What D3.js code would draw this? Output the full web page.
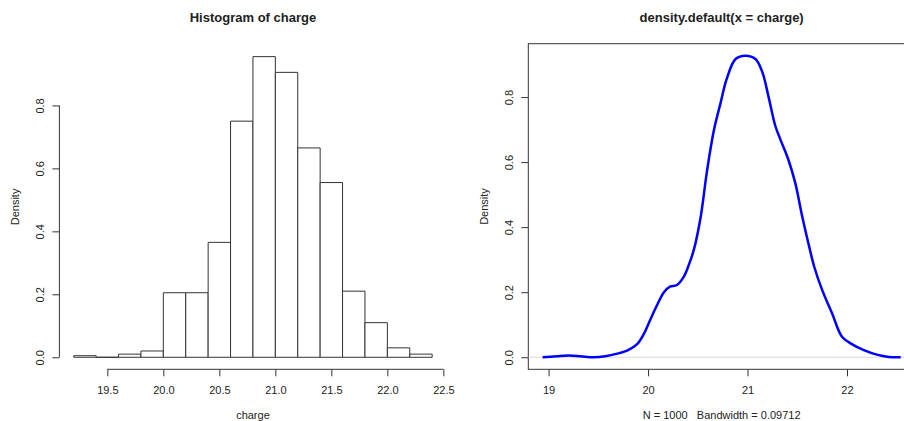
<!DOCTYPE html>
<html>
<head>
<meta charset="utf-8">
<script src="https://cdn.jsdelivr.net/npm/d3@7"></script>
<style>
	body { margin: 0; background: #fff; }
	svg text { font-family: "Liberation Sans", Arial, sans-serif; fill: #222; }
</style>
</head>
<body>
<svg id="chart" width="904" height="421"></svg>
<script>

	// hist(charge, freq = FALSE): bins of width 0.2
	var binStarts = [19.2, 19.4, 19.6, 19.8, 20.0, 20.2, 20.4, 20.6, 20.8, 21.0, 21.2, 21.4, 21.6, 21.8, 22.0, 22.2];
	var binDensity = [0.005, 0, 0.01, 0.02, 0.205, 0.205, 0.365, 0.75, 0.955, 0.905, 0.665, 0.555, 0.21, 0.11, 0.03, 0.01];
	var binWidth = 0.2;
	var histXTicks = [19.5, 20.0, 20.5, 21.0, 21.5, 22.0, 22.5];
	var histYTicks = [0, 0.2, 0.4, 0.6, 0.8];

	// plot(density(charge))
	var densX = [18.94, 19.08, 19.2, 19.32, 19.45, 19.57, 19.69, 19.8, 19.89, 19.96, 20.02, 20.09, 20.16, 20.22, 20.29, 20.36, 20.41, 20.46, 20.53, 20.59, 20.66, 20.73, 20.79, 20.88, 20.98, 21.08, 21.15, 21.21, 21.28, 21.33, 21.41, 21.48, 21.55, 21.62, 21.67, 21.75, 21.85, 21.95, 22.04, 22.17, 22.3, 22.42, 22.54];
	var densY = [0, 0.003, 0.005, 0.003, 0, 0.003, 0.011, 0.022, 0.04, 0.073, 0.114, 0.16, 0.2, 0.217, 0.222, 0.248, 0.284, 0.33, 0.433, 0.567, 0.695, 0.783, 0.855, 0.917, 0.927, 0.917, 0.876, 0.803, 0.711, 0.67, 0.608, 0.536, 0.433, 0.34, 0.279, 0.207, 0.135, 0.063, 0.042, 0.022, 0.008, 0.001, 0];
	var densXTicks = [19, 20, 21, 22];
	var densYTicks = [0, 0.2, 0.4, 0.6, 0.8];
	var nObs = 1000;
	var bandwidth = 0.09712;

	var svg = d3.select("#chart");
	var lineCol = "#333";

	// R pads the data range by 4% on each side
	function padded(lo, hi) {
		var d = (hi - lo) * 0.04;
		return [lo - d, hi + d];
	}

	function bottomAxis(g, x, ticks, fmt) {
		g.call(d3.axisBottom(x).tickValues(ticks).tickFormat(fmt).tickSize(7).tickPadding(9.5))
			.attr("font-size", 11).attr("font-family", null).attr("color", lineCol);
		g.select(".domain").remove();
	}

	function leftAxis(g, y, ticks) {
		g.call(d3.axisLeft(y).tickValues(ticks).tickFormat(d3.format(".1f")).tickSize(7))
			.attr("font-size", 11).attr("font-family", null).attr("color", lineCol);
		g.select(".domain").remove();
		g.selectAll(".tick text")
			.attr("x", 0).attr("dy", null)
			.attr("text-anchor", "middle")
			.attr("transform", "translate(-15,0) rotate(-90)");
	}

	function labels(left, right, top, bottom, title, xlab) {
		var cx = (left + right) / 2;
		svg.append("text")
			.attr("x", cx).attr("y", 22)
			.attr("text-anchor", "middle")
			.attr("font-size", 13).attr("font-weight", "bold")
			.text(title);
		svg.append("text")
			.attr("x", cx).attr("y", 419)
			.attr("text-anchor", "middle")
			.attr("font-size", 11)
			.style("white-space", "pre")
			.text(xlab);
		svg.append("text")
			.attr("transform", "translate(" + (left - 40) + "," + ((top + bottom) / 2) + ") rotate(-90)")
			.attr("text-anchor", "middle")
			.attr("font-size", 11)
			.text("Density");
	}

	// ---- left panel: histogram ----
	var hL = 59.4, hR = 446.5, hT = 44.6, hB = 369.3;
	var hx = d3.scaleLinear()
		.domain(padded(binStarts[0], binStarts[binStarts.length - 1] + binWidth))
		.range([hL, hR]);
	var hy = d3.scaleLinear()
		.domain(padded(0, d3.max(binDensity)))
		.range([hB, hT]);

	// drawn as closed paths so an empty bin still shows as a line on 0
	svg.selectAll(".bar")
		.data(binStarts)
		.enter().append("path")
		.attr("class", "bar")
		.attr("d", function (d, i) {
			var x0 = hx(d), x1 = hx(d + binWidth), y0 = hy(0), y1 = hy(binDensity[i]);
			return "M" + x0 + "," + y0 + "V" + y1 + "H" + x1 + "V" + y0 + "Z";
		})
		.style("fill", "#fff")
		.style("stroke", lineCol)
		.style("stroke-width", 1);

	var hxAxis = svg.append("g").attr("transform", "translate(0," + hB + ")");
	bottomAxis(hxAxis, hx, histXTicks, d3.format(".1f"));
	hxAxis.append("line")
		.attr("x1", hx(histXTicks[0])).attr("x2", hx(histXTicks[histXTicks.length - 1]))
		.attr("stroke", lineCol);

	var hyAxis = svg.append("g").attr("transform", "translate(" + hL + ",0)");
	leftAxis(hyAxis, hy, histYTicks);
	hyAxis.append("line")
		.attr("y1", hy(histYTicks[0])).attr("y2", hy(histYTicks[histYTicks.length - 1]))
		.attr("stroke", lineCol);

	labels(hL, hR, hT, hB, "Histogram of charge", "charge");

	// ---- right panel: density ----
	var dL = 528.3, dR = 915, dT = 43.7, dB = 369.3;
	var dx = d3.scaleLinear()
		.domain(padded(d3.min(densX), d3.max(densX)))
		.range([dL, dR]);
	var dy = d3.scaleLinear()
		.domain(padded(0, d3.max(densY)))
		.range([dB, dT]);

	svg.append("rect")
		.attr("x", dL).attr("y", dT)
		.attr("width", dR - dL).attr("height", dB - dT)
		.style("fill", "none")
		.style("stroke", lineCol);

	svg.append("line")
		.attr("x1", dL).attr("x2", dR)
		.attr("y1", dy(0)).attr("y2", dy(0))
		.style("stroke", "#d8d8d8");

	var densLine = d3.line()
		.x(function (d) { return dx(d[0]); })
		.y(function (d) { return dy(d[1]); })
		.curve(d3.curveCatmullRom.alpha(0.5));

	svg.append("path")
		.datum(d3.zip(densX, densY))
		.attr("d", densLine)
		.style("fill", "none")
		.style("stroke", "#0000ff")
		.style("stroke-width", 2.5)
		.style("stroke-linejoin", "round");

	var dxAxis = svg.append("g").attr("transform", "translate(0," + dB + ")");
	bottomAxis(dxAxis, dx, densXTicks, d3.format("d"));

	var dyAxis = svg.append("g").attr("transform", "translate(" + dL + ",0)");
	leftAxis(dyAxis, dy, densYTicks);

	labels(dL, dR, dT, dB, "density.default(x = charge)",
		"N = " + nObs + "   Bandwidth = " + bandwidth);

</script>
</body>
</html>
